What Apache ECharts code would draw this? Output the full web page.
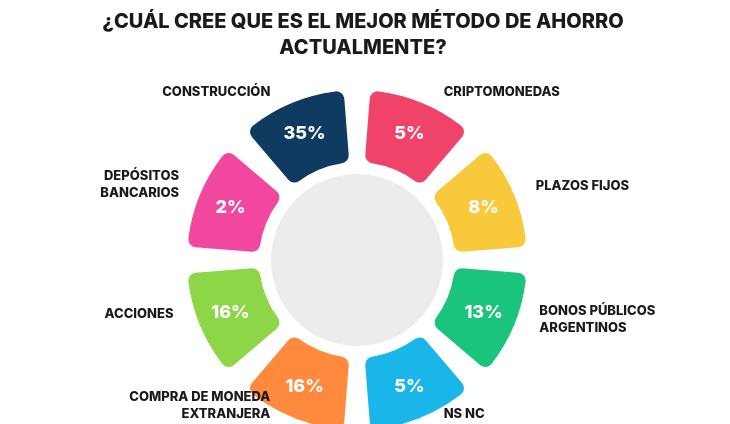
<!DOCTYPE html><html><head><meta charset="utf-8"><script src="https://cdn.jsdelivr.net/npm/echarts@6/dist/echarts.min.js"></script>
<style>html,body{margin:0;background:#fff}#c{width:730px;height:424px}</style></head><body><div id="c"></div><script>
const categories=["CRIPTOMONEDAS","PLAZOS FIJOS","BONOS PÚBLICOS\nARGENTINOS","NS NC","COMPRA DE MONEDA\nEXTRANJERA","ACCIONES","DEPÓSITOS\nBANCARIOS","CONSTRUCCIÓN"];
const values=[5,8,13,5,16,16,2,35];
const colors=["#F0436A","#F9C93C","#1BC47D","#1AB6EA","#FF8A3D","#8CD648","#F2479E","#0E3B5F"];
const F="Inter, 'Open Sans', sans-serif";
const chart=echarts.init(document.getElementById('c'));
const seg=categories.map((n,i)=>({name:n,value:1,pct:values[i],itemStyle:{color:colors[i]}}));
chart.setOption({
title:{text:"¿CUÁL CREE QUE ES EL MEJOR MÉTODO DE AHORRO\nACTUALMENTE?",left:358,textAlign:'center',top:4,textStyle:{fontFamily:F,fontWeight:800,fontSize:20,lineHeight:26,color:'#1a1a1a'}},
series:[
{type:'pie',silent:true,center:[357,260],radius:[0,86],data:[{value:1,itemStyle:{color:'#ececec'}}],label:{show:false}},
{type:'pie',center:[357,260],radius:[98,170],startAngle:90,padAngle:9,itemStyle:{borderRadius:8},data:seg,
 label:{position:'inside',formatter:p=>p.data.pct+'%',color:'#fff',fontFamily:F,fontWeight:800,fontSize:18}},
{type:'pie',center:[357,260],radius:[98,170],startAngle:90,padAngle:9,silent:true,
 data:seg.map(d=>({name:d.name,value:1,itemStyle:{color:'transparent'}})),
 label:{position:'outside',formatter:'{b}',color:'#1a1a1a',fontFamily:F,fontWeight:800,fontSize:13,lineHeight:17},
 labelLine:{show:false,length:12,length2:12}}
]});
</script></body></html>
